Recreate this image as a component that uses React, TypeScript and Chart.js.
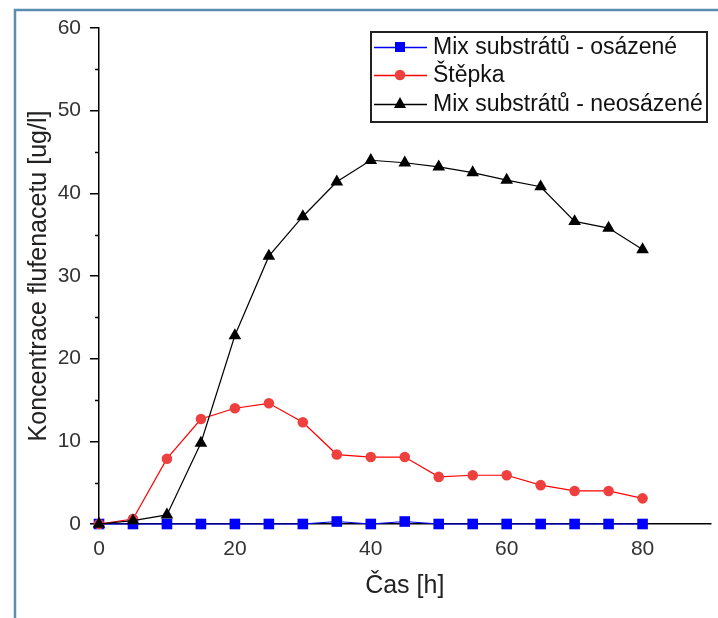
import React, { useEffect, useRef } from 'react';
import { Chart, registerables } from 'chart.js';

Chart.register(...registerables);

// Sampling times [h]
const hours = [0, 5, 10, 15, 20, 25, 30, 35, 40, 45, 50, 55, 60, 65, 70, 75, 80];

// Flufenacet concentration [ug/l]
const mixSeeded = [0, 0, 0, 0, 0, 0, 0, 0.3, 0, 0.3, 0, 0, 0, 0, 0, 0, 0];
const woodChips = [0, 0.6, 7.9, 12.7, 14.0, 14.6, 12.3, 8.4, 8.1, 8.1, 5.7, 5.9, 5.9, 4.7, 4.0, 4.0, 3.1];
const mixUnseeded = [0, 0.4, 1.1, 9.8, 22.8, 32.4, 37.2, 41.4, 44.0, 43.7, 43.2, 42.5, 41.6, 40.8, 36.6, 35.8, 33.2];

const seriesLabels = ['Mix substrátů - osázené', 'Štěpka', 'Mix substrátů - neosázené'];

const xTicks = [0, 20, 40, 60, 80];
const yTicks = [0, 10, 20, 30, 40, 50, 60];
const yMinorTicks = [5, 15, 25, 35, 45, 55];

const FONT = '"Liberation Sans", Arial, Helvetica, sans-serif';

const toPoints = (ys: number[]) => hours.map((h, i) => ({ x: h, y: ys[i] }));

type Marker = 'rect' | 'circle' | 'triangle';

function drawMarker(ctx: CanvasRenderingContext2D, kind: Marker, x: number, y: number, fill: string) {
  ctx.save();
  ctx.fillStyle = fill;
  ctx.beginPath();
  if (kind === 'rect') {
    ctx.rect(x - 5, y - 5, 10, 10);
  } else if (kind === 'circle') {
    ctx.arc(x, y, 5.3, 0, Math.PI * 2);
  } else {
    ctx.moveTo(x, y - 7);
    ctx.lineTo(x + 6, y + 4);
    ctx.lineTo(x - 6, y + 4);
    ctx.closePath();
  }
  ctx.fill();
  ctx.restore();
}

const decorations = {
  id: 'decorations',
  beforeDraw(chart: any) {
    const { ctx } = chart;
    ctx.save();
    ctx.strokeStyle = '#5a8db0';
    ctx.lineWidth = 2.5;
    ctx.beginPath();
    ctx.moveTo(15, chart.height);
    ctx.lineTo(15, 10);
    ctx.lineTo(chart.width, 10);
    ctx.stroke();
    ctx.restore();
  },
  afterDraw(chart: any) {
    const { ctx } = chart;
    const yScale = chart.scales.y;
    const left = chart.chartArea.left;

    // minor ticks on the value axis
    ctx.save();
    ctx.strokeStyle = '#000';
    ctx.lineWidth = 1.5;
    yMinorTicks.forEach((v) => {
      const py = Math.round(yScale.getPixelForValue(v)) + 0.5;
      ctx.beginPath();
      ctx.moveTo(left - 4, py);
      ctx.lineTo(left, py);
      ctx.stroke();
    });
    ctx.restore();

    // boxed legend
    const bx = 371, by = 32, bw = 336, bh = 90;
    ctx.save();
    ctx.fillStyle = '#fff';
    ctx.fillRect(bx, by, bw, bh);
    ctx.strokeStyle = '#222';
    ctx.lineWidth = 2;
    ctx.strokeRect(bx, by, bw, bh);
    const rows = [47, 75, 104];
    const lineColors = ['#0000ff', '#ff0000', '#000000'];
    const markerColors = ['#0000ff', '#ef4040', '#000000'];
    const markers: Marker[] = ['rect', 'circle', 'triangle'];
    rows.forEach((ry, i) => {
      ctx.strokeStyle = lineColors[i];
      ctx.lineWidth = 1.5;
      ctx.beginPath();
      ctx.moveTo(374, ry + 0.5);
      ctx.lineTo(427, ry + 0.5);
      ctx.stroke();
      drawMarker(ctx, markers[i], 400, ry, markerColors[i]);
      ctx.fillStyle = '#111';
      ctx.font = `23px ${FONT}`;
      ctx.textBaseline = 'middle';
      ctx.textAlign = 'left';
      ctx.fillText(seriesLabels[i], 433, ry + 1);
    });
    ctx.restore();
  },
};

export default function App() {
  const canvasRef = useRef<HTMLCanvasElement | null>(null);

  useEffect(() => {
    if (!canvasRef.current) return;
    const chart = new Chart(canvasRef.current, {
      type: 'line',
      data: {
        datasets: [
          {
            label: seriesLabels[0],
            data: toPoints(mixSeeded),
            borderColor: '#0000ff',
            backgroundColor: '#0000ff',
            borderWidth: 1.2,
            pointStyle: 'rect',
            pointRadius: 7.5,
            pointBorderWidth: 0,
            order: 2,
            clip: false,
          },
          {
            label: seriesLabels[1],
            data: toPoints(woodChips),
            borderColor: '#ff0000',
            backgroundColor: '#ef4040',
            borderWidth: 1.2,
            pointStyle: 'circle',
            pointRadius: 5.3,
            pointBorderWidth: 0,
            order: 1,
            clip: false,
          },
          {
            label: seriesLabels[2],
            data: toPoints(mixUnseeded),
            borderColor: '#000000',
            backgroundColor: '#000000',
            borderWidth: 1.2,
            pointStyle: 'triangle',
            pointRadius: 7.3,
            pointBorderWidth: 0,
            order: 0,
            clip: false,
          },
        ],
      },
      options: {
        responsive: false,
        animation: false,
        layout: { padding: { left: 0, right: 6, top: 28, bottom: 0 } },
        plugins: {
          legend: { display: false },
          tooltip: { enabled: false },
        },
        elements: { line: { tension: 0 } },
        scales: {
          x: {
            type: 'linear',
            min: 0,
            max: 90,
            afterFit: (s: any) => {
              s.height = 94;
            },
            afterBuildTicks: (s: any) => {
              s.ticks = xTicks.map((v) => ({ value: v }));
            },
            grid: {
              display: true,
              drawOnChartArea: false,
              drawTicks: true,
              tickLength: 5,
              color: '#000',
              lineWidth: 1.5,
            },
            border: { display: true, color: '#000', width: 1.5 },
            ticks: {
              font: { family: FONT, size: 21 },
              color: '#333',
              padding: 8,
              maxRotation: 0,
            },
            title: {
              display: true,
              text: 'Čas [h]',
              font: { family: FONT, size: 25 },
              color: '#222',
              padding: { top: 0, bottom: 17 },
            },
          },
          y: {
            type: 'linear',
            min: 0,
            max: 60,
            afterFit: (s: any) => {
              s.width = 99;
            },
            afterBuildTicks: (s: any) => {
              s.ticks = yTicks.map((v) => ({ value: v }));
            },
            grid: {
              display: true,
              drawOnChartArea: false,
              drawTicks: true,
              tickLength: 9,
              color: '#000',
              lineWidth: 1.5,
            },
            border: { display: true, color: '#000', width: 1.5 },
            ticks: {
              font: { family: FONT, size: 21 },
              color: '#333',
              padding: 9,
            },
            title: {
              display: true,
              text: 'Koncentrace flufenacetu [ug/l]',
              font: { family: FONT, size: 25 },
              color: '#222',
              padding: { top: 24, bottom: 0 },
            },
          },
        },
      },
      plugins: [decorations],
    } as any);
    return () => chart.destroy();
  }, []);

  return (
    <div style={{ position: 'fixed', left: 0, top: 0, width: 718, height: 618, background: '#fff' }}>
      <canvas ref={canvasRef} width={718} height={618} />
    </div>
  );
}
